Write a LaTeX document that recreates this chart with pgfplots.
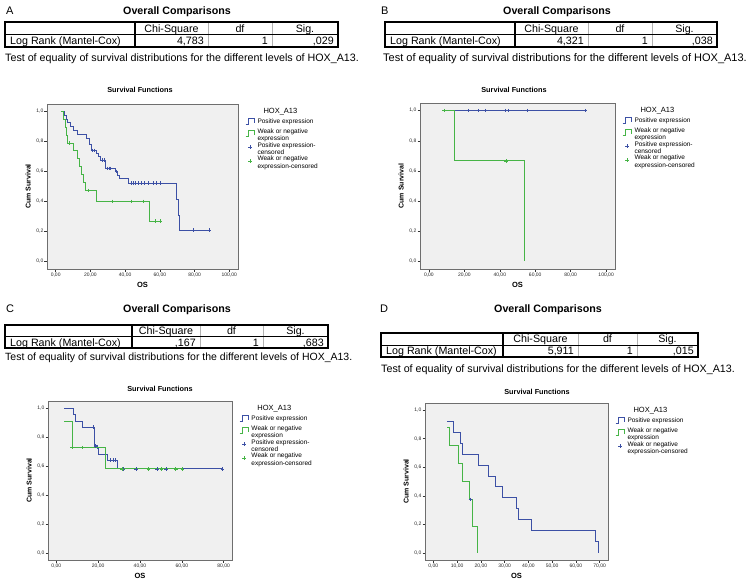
\documentclass[border=0pt]{standalone}
\usepackage{fontspec}
\setmainfont{Liberation Sans}
\usepackage{pgfplots}
\pgfplotsset{compat=1.18}
\definecolor{kmblue}{RGB}{60,80,165}
\definecolor{kmgreen}{RGB}{70,180,70}
\definecolor{bggray}{RGB}{240,240,240}
\definecolor{framegray}{RGB}{110,110,110}
\newcommand\fs[1]{\fontsize{#1}{#1}\selectfont}
\newcommand\tfont{\fs{10.7}}
\newcommand\sigtable[8]{%
 \fill[white] (#1,#6) rectangle (#5,#8);
 \draw[gray!60, line width=0.6pt] (#3,#6)--(#3,#8) (#4,#6)--(#4,#8);
 \draw[black, line width=1pt] (#1,#7)--(#5,#7);
 \draw[black, line width=1.2pt] (#2,#6)--(#2,#8);
 \draw[black, line width=1.3pt] (#1,#6) rectangle (#5,#8);
 \node[anchor=base, inner sep=0pt, font=\tfont] at ({(#2+#3)/2},{(#6+#7)/2+3.9}) {Chi-Square};
 \node[anchor=base, inner sep=0pt, font=\tfont] at ({(#3+#4)/2},{(#6+#7)/2+3.9}) {df};
 \node[anchor=base, inner sep=0pt, font=\tfont] at ({(#4+#5)/2},{(#6+#7)/2+3.9}) {Sig.};
 \node[anchor=base west, inner sep=0pt, font=\tfont] at ({#1+5},{(#7+#8)/2+3.9}) {Log Rank (Mantel-Cox)};
 \node[anchor=base east, inner sep=0pt, font=\tfont] at ({#3-4},{(#7+#8)/2+3.9}) {\tchi};
 \node[anchor=base east, inner sep=0pt, font=\tfont] at ({#4-4},{(#7+#8)/2+3.9}) {1};
 \node[anchor=base east, inner sep=0pt, font=\tfont] at ({#5-4},{(#7+#8)/2+3.9}) {\tsig};
}
\newcommand\testline{Test of equality of survival distributions for the different levels of HOX\_A13.}
\protected\def\two#1#2{\begin{tabular}{@{}l@{}}#1\\#2\end{tabular}}
\pgfplotsset{
 km/.style={
  scale only axis, anchor=south west,
  axis background/.style={fill=bggray},
  axis line style={framegray, line width=0.7pt},
  ymin=-0.05, ymax=1.05,
  ytick={0,0.2,0.4,0.6,0.8,1},
  yticklabels={{0,0},{0,2},{0,4},{0,6},{0,8},{1,0}},
  xtick pos=bottom, ytick pos=left,
  tick align=outside, major tick length=2.5pt,
  every tick/.style={black!80, line width=0.4pt},
  tick label style={font=\fs{5}, text=black!85},
  yticklabel style={inner sep=1pt},
  xticklabel style={inner sep=1.5pt},
  xlabel={OS}, ylabel={Cum Survival},
  xlabel style={font=\bfseries\fs{7.5}, at={([yshift=-13pt]rel axis cs:0.5,0)}, anchor=north, inner sep=0pt},
  ylabel style={font=\bfseries\fs{7}, at={([xshift=-16pt]rel axis cs:0,0.5)}, anchor=south, inner sep=0pt},
  legend style={draw=none, fill=none, at={(rel axis cs:1,1)}, anchor=north west, xshift=7pt, yshift=-4pt, inner sep=0pt, row sep=2.8pt, column sep=2.5pt, nodes={inner sep=0.3pt, font=\fontsize{6.5}{7.3}\selectfont}},
  legend cell align=left,
 },
 surv/.style={const plot, line width=1pt, legend image code/.code={\draw[##1] (0pt,-3pt) -- (2.5pt,-3pt) -- (2.5pt,3pt) -- (8.5pt,3pt) -- (8.5pt,-1pt);}},
 cens/.style={only marks, mark=+, mark size=1.8pt, mark options={line width=0.55pt}, legend image code/.code={\draw[##1] plot coordinates {(4.25pt,0pt)};}},
}
\newcommand\legtitle{\hspace*{6pt}{\fs{7.5}HOX\_A13}}
\begin{document}
\begin{tikzpicture}
\useasboundingbox (0pt,0pt) rectangle (750pt,-584pt);
\begin{scope}[x=1pt,y=-1pt]
 % Panel A
 \node[anchor=base west, inner sep=0pt, font=\fs{11}] at (6,14) {A};
 \node[anchor=base, inner sep=0pt, font=\bfseries\fs{10.7}] at (177,14) {Overall Comparisons};
 \def\tchi{4,783}\def\tsig{,029}
 \sigtable{5}{135}{208}{272}{338}{22}{34.5}{47}
 \node[anchor=base west, inner sep=0pt, font=\fs{10.7}] at (5,61) {\testline};
 \node[anchor=base, inner sep=0pt, font=\bfseries\fs{7.3}] at (140,92.5) {Survival Functions};
 % Panel B
 \node[anchor=base west, inner sep=0pt, font=\fs{11}] at (381,14) {B};
 \node[anchor=base, inner sep=0pt, font=\bfseries\fs{10.7}] at (557,14) {Overall Comparisons};
 \def\tchi{4,321}\def\tsig{,038}
 \sigtable{385}{515}{588}{652}{717}{22}{34.5}{47}
 \node[anchor=base west, inner sep=0pt, font=\fs{11}] at (383,61) {\testline};
 \node[anchor=base, inner sep=0pt, font=\bfseries\fs{7.3}] at (514,92.5) {Survival Functions};
 % Panel C
 \node[anchor=base west, inner sep=0pt, font=\fs{11}] at (6,312) {C};
 \node[anchor=base, inner sep=0pt, font=\bfseries\fs{10.7}] at (177,312) {Overall Comparisons};
 \def\tchi{,167}\def\tsig{,683}
 \sigtable{5}{132}{200}{263}{328}{325}{336.5}{348}
 \node[anchor=base west, inner sep=0pt, font=\fs{10.5}] at (5,360) {\testline};
 \node[anchor=base, inner sep=0pt, font=\bfseries\fs{7.3}] at (160,391) {Survival Functions};
 % Panel D
 \node[anchor=base west, inner sep=0pt, font=\fs{11}] at (380,312) {D};
 \node[anchor=base, inner sep=0pt, font=\bfseries\fs{10.7}] at (548,312) {Overall Comparisons};
 \def\tchi{5,911}\def\tsig{,015}
 \sigtable{381}{503}{578}{637}{698}{333}{345}{357}
 \node[anchor=base west, inner sep=0pt, font=\fs{10.7}] at (381,372) {\testline};
 \node[anchor=base, inner sep=0pt, font=\bfseries\fs{7.3}] at (537,394) {Survival Functions};
\end{scope}

% ---------- A ----------
\begin{axis}[km, at={(47pt,-269pt)}, width=191pt, height=165pt,
  xmin=-5, xmax=105, xtick={0,20,40,60,80,100},
  xticklabels={{0,00},{20,00},{40,00},{60,00},{80,00},{100,00}}]
\addlegendimage{empty legend}\addlegendentry{\legtitle}
\addplot[surv, kmblue] coordinates {(3.8,1.0) (5,0.975) (6,0.95) (7,0.925) (8.5,0.90) (10,0.875) (12.5,0.85) (17.8,0.82) (19.2,0.78) (20.5,0.74) (23.6,0.72) (24.9,0.70) (25.9,0.675) (28.7,0.62) (34.5,0.60) (35.8,0.575) (37,0.555) (42.1,0.522) (69.3,0.415) (70.5,0.31) (71.5,0.21) (88.3,0.21)};
\addlegendentry{Positive expression}
\addplot[surv, kmgreen] coordinates {(3,1.0) (4.5,0.947) (5.5,0.895) (6,0.842) (6.8,0.789) (10.2,0.737) (12.5,0.684) (14,0.632) (14.8,0.579) (16,0.526) (17,0.474) (23.4,0.40) (54.2,0.27) (60.3,0.27)};
\addlegendentry{\two{Weak or negative}{expression}}
\addplot[cens, kmblue] coordinates {(21.1,0.74) (22.4,0.74) (26.8,0.675) (27.8,0.675) (29.7,0.62) (30.6,0.62) (31.6,0.62) (35.1,0.60) (43.6,0.522) (44.6,0.522) (45.6,0.522) (47.5,0.522) (49.4,0.522) (51.3,0.522) (53.3,0.522) (56.2,0.522) (57.7,0.522) (60.3,0.522) (79.1,0.21) (88.3,0.21)};
\addlegendentry{\two{Positive expression-}{censored}}
\addplot[cens, kmgreen] coordinates {(7.7,0.789) (19,0.474) (32.6,0.40) (43.7,0.40) (50.4,0.40) (57.5,0.27) (60.3,0.27)};
\addlegendentry{\two{Weak or negative}{expression-censored}}
\end{axis}

% ---------- B ----------
\begin{axis}[km, at={(420pt,-269pt)}, width=195pt, height=166pt,
  xmin=-5, xmax=105, xtick={0,20,40,60,80,100},
  xticklabels={{0,00},{20,00},{40,00},{60,00},{80,00},{100,00}}]
\addlegendimage{empty legend}\addlegendentry{\legtitle}
\addplot[surv, kmblue] coordinates {(8.5,1.0) (88,1.0)};
\addlegendentry{Positive expression}
\addplot[surv, kmgreen] coordinates {(8.5,1.0) (14.7,0.667) (54.2,0)};
\addlegendentry{\two{Weak or negative}{expression}}
\addplot[cens, kmblue] coordinates {(22,1) (27.7,1) (31.6,1) (43,1) (45,1) (55.4,1) (88,1)};
\addlegendentry{\two{Positive expression-}{censored}}
\addplot[cens, kmgreen] coordinates {(8.5,1) (43.5,0.667)};
\addlegendentry{\two{Weak or negative}{expression-censored}}
\end{axis}

% ---------- C ----------
\begin{axis}[km, at={(48pt,-560pt)}, width=184pt, height=159pt,
  xmin=-4, xmax=84, xtick={0,20,40,60,80},
  xticklabels={{0,00},{20,00},{40,00},{60,00},{80,00}}]
\addlegendimage{empty legend}\addlegendentry{\legtitle}
\addplot[surv, kmblue] coordinates {(3.7,1) (8.2,0.955) (9.3,0.91) (12.3,0.87) (18.2,0.74) (19.5,0.72) (20.3,0.68) (24.3,0.64) (29.4,0.58) (79.4,0.58)};
\addlegendentry{Positive expression}
\addplot[surv, kmgreen] coordinates {(3.7,0.909) (7.5,0.727) (23.6,0.58) (60.3,0.58)};
\addlegendentry{\two{Weak or negative}{expression}}
\addplot[cens, kmblue] coordinates {(17.5,0.87) (18.8,0.74) (25.7,0.64) (27,0.64) (28.1,0.64) (32.2,0.58) (38.1,0.58) (48.1,0.58) (52.4,0.58) (79.4,0.58)};
\addlegendentry{\two{Positive expression-}{censored}}
\addplot[cens, kmgreen] coordinates {(7.6,0.727) (12.4,0.727) (31.3,0.58) (44.1,0.58) (50.3,0.58) (57.1,0.58) (60.3,0.58)};
\addlegendentry{\two{Weak or negative}{expression-censored}}
\end{axis}

% ---------- D ----------
\begin{axis}[km, at={(425pt,-560pt)}, width=183pt, height=157pt,
  xmin=-3.5, xmax=73.5, xtick={0,10,20,30,40,50,60,70},
  xticklabels={{0,00},{10,00},{20,00},{30,00},{40,00},{50,00},{60,00},{70,00}}]
\addlegendimage{empty legend}\addlegendentry{\legtitle}
\addplot[surv, kmblue] coordinates {(5.8,0.923) (8.4,0.846) (11.3,0.769) (12.3,0.692) (19.2,0.615) (23.2,0.538) (26.1,0.462) (29.1,0.385) (34.9,0.308) (36,0.231) (41.4,0.154) (68.2,0.077) (69.3,0)};
\addlegendentry{Positive expression}
\addplot[surv, kmgreen] coordinates {(5.8,0.875) (6.7,0.75) (10.4,0.625) (12.4,0.5) (15.3,0.375) (16.4,0.1875) (18.4,0)};
\addlegendentry{\two{Weak or negative}{expression}}
\addplot[cens, kmblue] coordinates {(15.6,0.375)};
\addlegendentry{\two{Weak or negative}{expression-censored}}
\end{axis}
\end{tikzpicture}
\end{document}
